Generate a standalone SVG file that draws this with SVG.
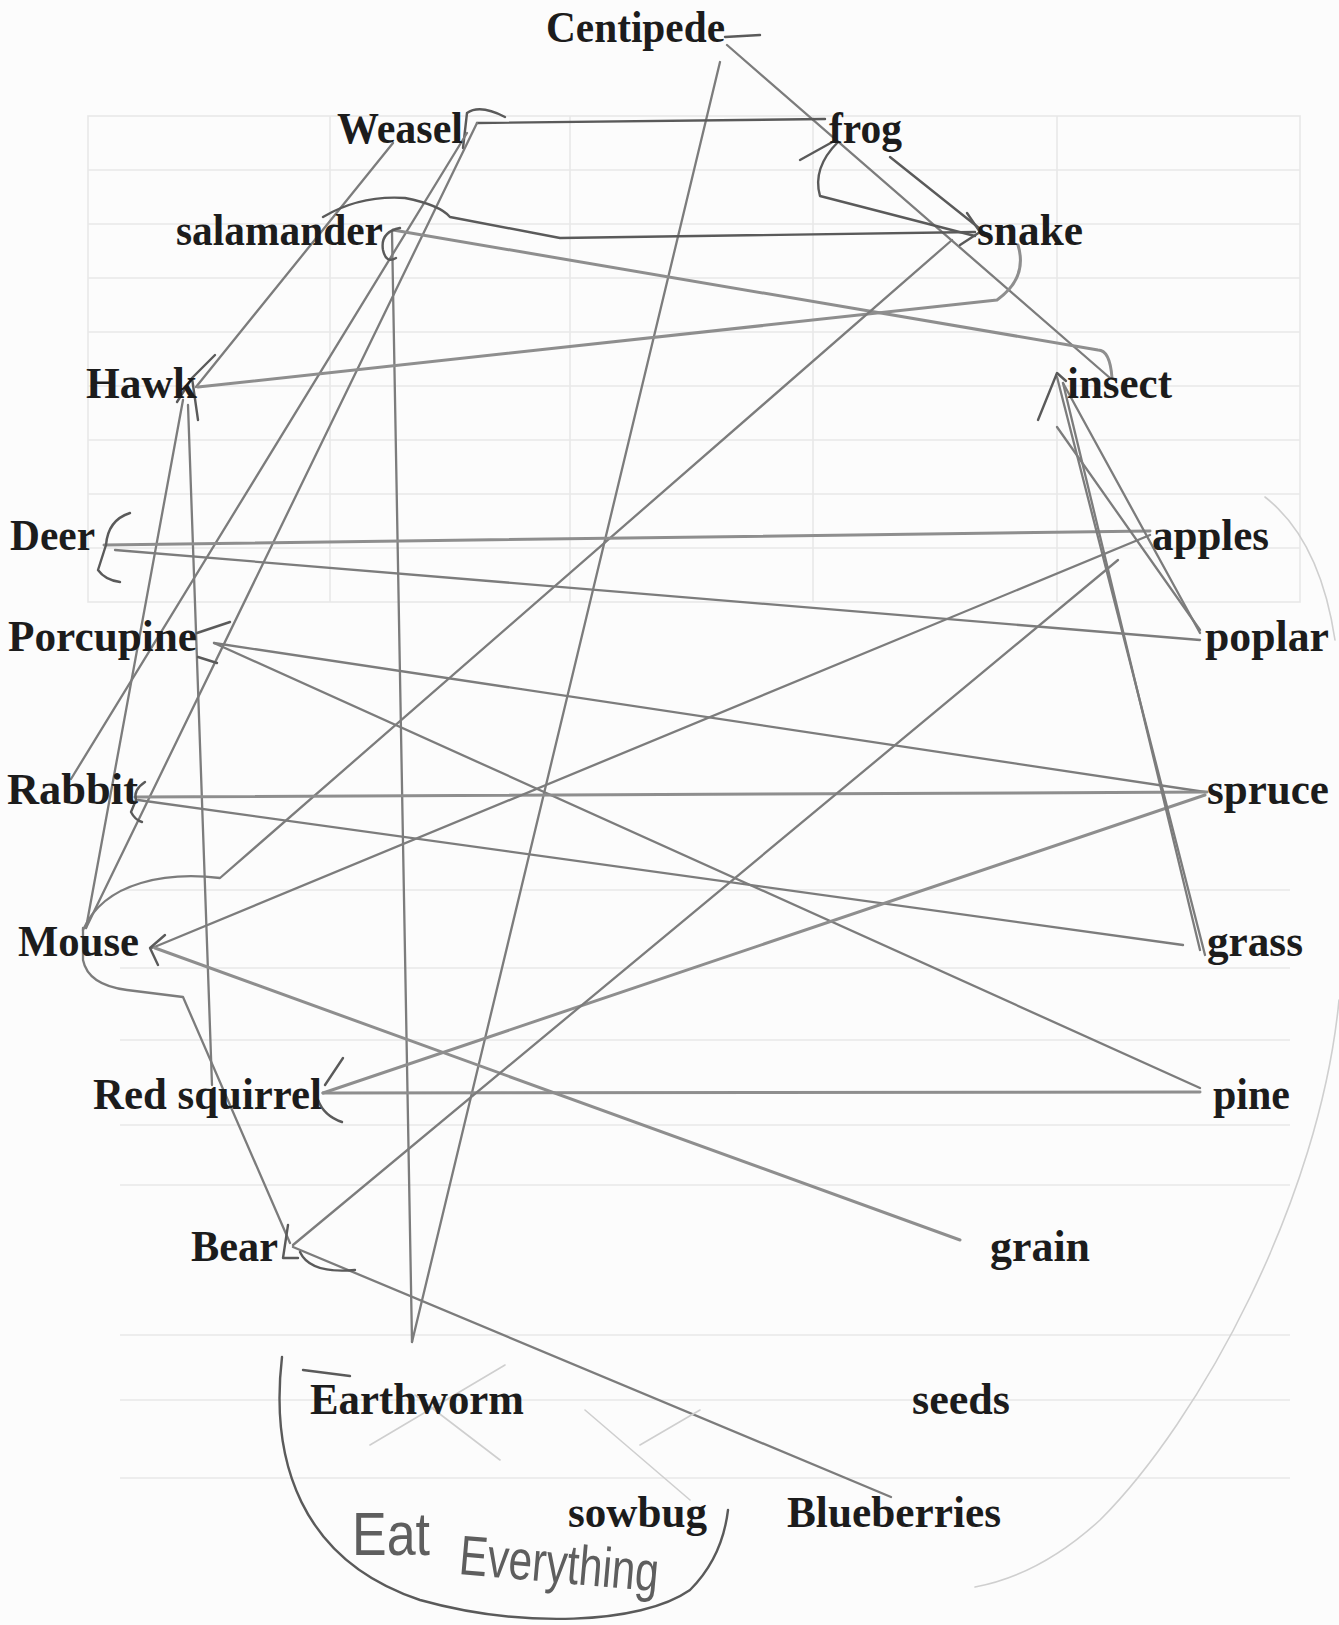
<svg xmlns="http://www.w3.org/2000/svg" width="1339" height="1625" viewBox="0 0 1339 1625">
<style>
.lbl{font-family:"Liberation Serif","Times New Roman",serif;font-weight:bold;font-size:45px;fill:#1c1c1c}
.hand{font-family:"Liberation Sans",Arial,sans-serif;font-weight:normal;fill:#5e5e5e}
.p{fill:none;stroke:#7c7c7c;stroke-width:2.3;stroke-linecap:round;stroke-linejoin:round}
.pt{fill:none;stroke:#8e8e8e;stroke-width:3;stroke-linecap:round;stroke-linejoin:round}
.pd{fill:none;stroke:#5a5a5a;stroke-width:2.4;stroke-linecap:round;stroke-linejoin:round}
.pf{fill:none;stroke:#cfcfcf;stroke-width:1.6;stroke-linecap:round}
.grid{fill:none;stroke:#e8e8e8;stroke-width:1.6}
</style>
<rect width="1339" height="1625" fill="#fcfcfc"/>
<g id="background-grid">
<rect class="grid" x="88" y="116" width="1212" height="486"/>
<path class="grid" d="M330,116V602M570,116V602M813,116V602M1057,116V602M88,170H1300M88,224H1300M88,278H1300M88,332H1300M88,386H1300M88,440H1300M88,494H1300M88,548H1300"/>
<path class="grid" d="M120,890H1290M120,968H1290M120,1040H1290M120,1125H1290M120,1185H1290M120,1335H1290M120,1400H1290M120,1478H1290"/>
</g>
<g id="connectors">
<path class="pd" d="M725,37 L760,35"/>
<path class="p" d="M727,45 L1110,378"/>
<path class="p" d="M720,62 L412,1342"/>
<path class="pd" d="M477,123 L825,119"/>
<path class="pd" d="M463,148 L467,113 Q480,104 505,117"/>
<path class="p" d="M393,143 L196,387"/>
<path class="p" d="M467,133 L71,779"/>
<path class="p" d="M477,123 L86,928"/>
<path class="pd" d="M323,217 Q360,195 405,198 Q440,205 450,217 L560,238 L975,232"/>
<path class="pt" d="M393,230 L1098,350 Q1110,350 1112,378"/>
<path class="p" d="M392,232 L412,1342"/>
<path class="pd" d="M400,228 Q380,232 383,250 Q386,264 396,258"/>
<path class="pt" d="M198,387 L997,300 Q1028,278 1018,245"/>
<path class="pd" d="M215,355 L192,378 L177,402 M192,378 L198,420"/>
<path class="p" d="M183,400 L86,928"/>
<path class="p" d="M188,405 L212,1085"/>
<path class="pd" d="M890,157 L979,228"/>
<path class="pd" d="M800,160 L836,140 M838,142 Q812,168 820,196 L975,236"/>
<path class="pd" d="M967,213 L980,232 L960,245"/>
<path class="p" d="M952,240 L220,878 C170,872 105,880 83,930"/>
<path class="pt" d="M104,545 L1150,531"/>
<path class="p" d="M115,550 L1200,640"/>
<path class="pd" d="M130,513 Q108,520 106,545 L98,570 Q105,580 120,582"/>
<path class="p" d="M214,643 L1205,792"/>
<path class="p" d="M214,643 L1200,1088"/>
<path class="pd" d="M230,622 L197,633 M198,657 L217,663"/>
<path class="pt" d="M135,797 L1207,792"/>
<path class="p" d="M138,800 L1183,945"/>
<path class="pd" d="M145,782 Q133,790 136,800 L131,812 Q135,820 142,822"/>
<path class="p" d="M152,948 L1150,535"/>
<path class="pt" d="M155,948 L960,1240"/>
<path class="pd" d="M165,935 L150,948 L158,965"/>
<path class="p" d="M83,928 L83,960 Q88,985 127,990 L183,997 L290,1243"/>
<path class="pt" d="M323,1093 L1200,1092"/>
<path class="pt" d="M323,1093 L1205,795"/>
<path class="pd" d="M343,1058 L325,1085 M318,1100 Q324,1116 342,1122"/>
<path class="p" d="M293,1245 L1118,560"/>
<path class="p" d="M293,1247 L891,1497"/>
<path class="pd" d="M288,1225 L283,1258 L298,1258 M300,1252 Q310,1274 355,1270"/>
<path class="p" d="M1057,377 L1205,955"/>
<path class="p" d="M1063,383 L1200,950"/>
<path class="p" d="M1063,383 L1200,633"/>
<path class="p" d="M1057,427 L1200,630"/>
<path class="pd" d="M1038,420 L1057,373 L1066,381"/>
<path class="pd" d="M282,1357 C270,1460 300,1560 420,1600 C520,1628 640,1625 690,1590 C715,1565 725,1535 728,1510"/>
<path class="pd" d="M303,1370 L350,1376"/>
<path class="pf" d="M370,1445 L505,1365 M415,1395 L500,1460 M585,1410 L690,1500 M640,1445 L700,1410"/>
<path class="pf" d="M1265,497 Q1320,540 1335,640 M1339,1000 C1320,1200 1200,1420 1100,1520 Q1040,1575 975,1587"/>
</g>
<g id="node-centipede"><text class="lbl" x="546" y="42" textLength="179" lengthAdjust="spacingAndGlyphs">Centipede</text></g>
<g id="node-weasel"><text class="lbl" x="337" y="143" textLength="126" lengthAdjust="spacingAndGlyphs">Weasel</text></g>
<g id="node-frog"><text class="lbl" x="829" y="143" textLength="73" lengthAdjust="spacingAndGlyphs">frog</text></g>
<g id="node-salamander"><text class="lbl" x="176" y="245" textLength="207" lengthAdjust="spacingAndGlyphs">salamander</text></g>
<g id="node-snake"><text class="lbl" x="977" y="245" textLength="106" lengthAdjust="spacingAndGlyphs">snake</text></g>
<g id="node-hawk"><text class="lbl" x="86" y="398" textLength="111" lengthAdjust="spacingAndGlyphs">Hawk</text></g>
<g id="node-insect"><text class="lbl" x="1067" y="398" textLength="105" lengthAdjust="spacingAndGlyphs">insect</text></g>
<g id="node-deer"><text class="lbl" x="10" y="550" textLength="85" lengthAdjust="spacingAndGlyphs">Deer</text></g>
<g id="node-apples"><text class="lbl" x="1152" y="550" textLength="117" lengthAdjust="spacingAndGlyphs">apples</text></g>
<g id="node-porcupine"><text class="lbl" x="8" y="651" textLength="189" lengthAdjust="spacingAndGlyphs">Porcupine</text></g>
<g id="node-poplar"><text class="lbl" x="1205" y="651" textLength="124" lengthAdjust="spacingAndGlyphs">poplar</text></g>
<g id="node-rabbit"><text class="lbl" x="7" y="804" textLength="131" lengthAdjust="spacingAndGlyphs">Rabbit</text></g>
<g id="node-spruce"><text class="lbl" x="1207" y="804" textLength="122" lengthAdjust="spacingAndGlyphs">spruce</text></g>
<g id="node-mouse"><text class="lbl" x="18" y="956" textLength="121" lengthAdjust="spacingAndGlyphs">Mouse</text></g>
<g id="node-grass"><text class="lbl" x="1207" y="956" textLength="96" lengthAdjust="spacingAndGlyphs">grass</text></g>
<g id="node-red-squirrel"><text class="lbl" x="93" y="1109" textLength="229" lengthAdjust="spacingAndGlyphs">Red squirrel</text></g>
<g id="node-pine"><text class="lbl" x="1213" y="1109" textLength="77" lengthAdjust="spacingAndGlyphs">pine</text></g>
<g id="node-bear"><text class="lbl" x="191" y="1261" textLength="87" lengthAdjust="spacingAndGlyphs">Bear</text></g>
<g id="node-grain"><text class="lbl" x="990" y="1261" textLength="100" lengthAdjust="spacingAndGlyphs">grain</text></g>
<g id="node-earthworm"><text class="lbl" x="310" y="1414" textLength="214" lengthAdjust="spacingAndGlyphs">Earthworm</text></g>
<g id="node-seeds"><text class="lbl" x="912" y="1414" textLength="98" lengthAdjust="spacingAndGlyphs">seeds</text></g>
<g id="node-sowbug"><text class="lbl" x="568" y="1527" textLength="139" lengthAdjust="spacingAndGlyphs">sowbug</text></g>
<g id="node-blueberries"><text class="lbl" x="787" y="1527" textLength="214" lengthAdjust="spacingAndGlyphs">Blueberries</text></g>
<g id="note-eat-everything">
<text class="hand" x="352" y="1555" font-size="62" textLength="78" lengthAdjust="spacingAndGlyphs">Eat</text>
<text class="hand" x="458" y="1574" font-size="56" textLength="200" lengthAdjust="spacingAndGlyphs" transform="rotate(5 458 1574)">Everything</text>
</g>
</svg>
